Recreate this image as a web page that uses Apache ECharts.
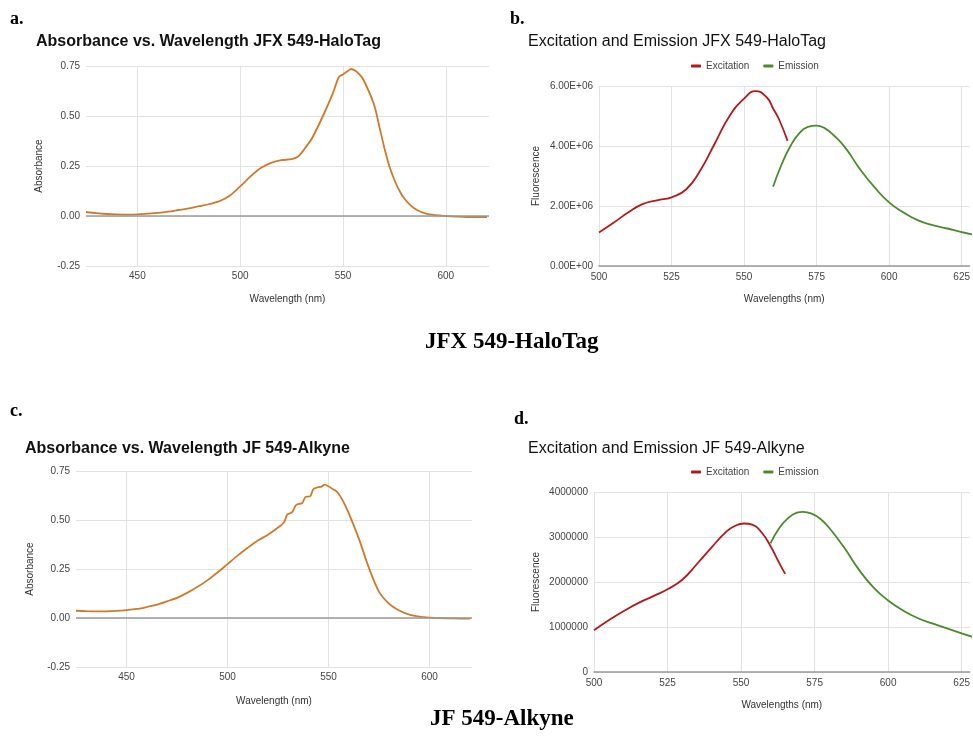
<!DOCTYPE html>
<html>
<head>
<meta charset="utf-8">
<script src="https://cdn.jsdelivr.net/npm/echarts@6/dist/echarts.min.js"></script>
<style>
  html, body { margin: 0; padding: 0; background: #fff; }
  #main { width: 973px; height: 736px; }
</style>
</head>
<body>
<div id="main"></div>
<script>
// absorbance, JFX 549-HaloTag (panel a)
const haloAbsWl = [425, 430, 435, 440, 445, 450, 455, 460, 465, 470, 475, 480, 485, 490, 495, 500, 505, 510, 515, 520, 525, 528, 530, 533, 535, 540, 545, 548, 550, 552, 554, 556, 558, 560, 565, 567.5, 570, 572.5, 575, 577.5, 580, 583, 586, 590, 595, 600, 605, 610, 615, 620]
const haloAbs = [0.020, 0.014, 0.010, 0.008, 0.007, 0.008, 0.012, 0.016, 0.022, 0.030, 0.038, 0.049, 0.060, 0.074, 0.102, 0.148, 0.198, 0.240, 0.266, 0.279, 0.284, 0.296, 0.318, 0.36, 0.390, 0.495, 0.612, 0.695, 0.708, 0.722, 0.735, 0.726, 0.708, 0.680, 0.560, 0.455, 0.345, 0.250, 0.180, 0.125, 0.085, 0.052, 0.030, 0.013, 0.004, 0.000, -0.003, -0.005, -0.005, -0.005]

// absorbance, JF 549-Alkyne (panel c)
const alkAbsWl = [425, 430, 435, 440, 445, 450, 455, 460, 465, 470, 475, 480, 485, 490, 495, 500, 505, 510, 515, 520, 525, 528, 529.5, 532, 534, 537, 538.5, 541, 542.5, 545, 546.5, 548, 550, 552, 554, 556, 558, 560, 565, 570, 575, 580, 585, 590, 595, 600, 605, 610, 615, 620]
const alkAbs = [0.037, 0.035, 0.034, 0.034, 0.036, 0.040, 0.046, 0.056, 0.068, 0.085, 0.103, 0.128, 0.158, 0.192, 0.232, 0.275, 0.318, 0.358, 0.395, 0.425, 0.462, 0.488, 0.527, 0.540, 0.577, 0.587, 0.617, 0.622, 0.658, 0.668, 0.670, 0.680, 0.672, 0.658, 0.646, 0.618, 0.580, 0.535, 0.405, 0.255, 0.133, 0.072, 0.038, 0.017, 0.007, 0.002, -0.001, -0.002, -0.003, -0.003]

// fluorescence, JFX 549-HaloTag (panel b)
const haloExWl = [500, 505, 510, 515, 520, 525, 530, 535, 540, 545, 550, 554, 558, 560, 562, 565]
const haloEx = [1.12e6, 1.44e6, 1.78e6, 2.06e6, 2.19e6, 2.29e6, 2.55e6, 3.2e6, 4.1e6, 5.0e6, 5.58e6, 5.83e6, 5.6e6, 5.25e6, 4.9e6, 4.17e6]
const haloEmWl = [560, 563, 566, 569, 572, 575, 578, 581, 585, 590, 595, 600, 605, 610, 615, 620, 625, 630]
const haloEm = [2.64e6, 3.4e6, 4.0e6, 4.42e6, 4.64e6, 4.68e6, 4.58e6, 4.35e6, 3.93e6, 3.22e6, 2.62e6, 2.12e6, 1.78e6, 1.52e6, 1.36e6, 1.25e6, 1.13e6, 1.03e6]

// fluorescence, JF 549-Alkyne (panel d)
const alkExWl = [500, 505, 510, 515, 520, 525, 530, 535, 540, 545, 548, 551, 554, 557, 560, 563, 565]
const alkEx = [0.93e6, 1.15e6, 1.35e6, 1.53e6, 1.68e6, 1.84e6, 2.05e6, 2.40e6, 2.77e6, 3.12e6, 3.25e6, 3.30e6, 3.27e6, 3.10e6, 2.80e6, 2.42e6, 2.18e6]
const alkEmWl = [560, 563, 566, 569, 571, 574, 577, 580, 585, 590, 595, 600, 605, 610, 615, 620, 625, 630]
const alkEm = [2.86e6, 3.2e6, 3.42e6, 3.54e6, 3.56e6, 3.52e6, 3.40e6, 3.20e6, 2.77e6, 2.28e6, 1.88e6, 1.59e6, 1.37e6, 1.20e6, 1.08e6, 0.97e6, 0.86e6, 0.75e6]

const pair = (xs, ys) => xs.map((x, i) => [x, ys[i]])

const FONT = 'Liberation Sans, Arial, sans-serif'
const SERIF = 'Liberation Serif, Times New Roman, serif'
const ORANGE = '#cf7a2a'
const RED = '#b3191c'
const GREEN = '#4a8b2c'
const GRID_LINE = '#e2e2e2'

function sci(v) {
  if (v === 0) return '0.00E+00'
  const e = Math.floor(Math.log10(v))
  const m = v / Math.pow(10, e)
  return m.toFixed(2) + 'E+' + String(e).padStart(2, '0')
}

const tickText = { color: '#444', fontSize: 10, fontFamily: FONT }
const nameText = { color: '#333', fontSize: 10, fontFamily: FONT }

// absorbance x axis (425..621, labels every 50)
function absX(gridIndex, gap) {
  return {
    type: 'value', gridIndex: gridIndex, min: 425, max: 621,
    splitNumber: 4, minInterval: 50, maxInterval: 50,
    name: 'Wavelength (nm)', nameLocation: 'middle', nameGap: gap, nameTextStyle: nameText,
    axisLine: { show: false, onZero: false }, axisTick: { show: false },
    axisLabel: Object.assign({ margin: 5, showMinLabel: false, showMaxLabel: false }, tickText),
    splitLine: { show: true, showMinLine: false, showMaxLine: false, lineStyle: { color: GRID_LINE, width: 1 } }
  }
}
function absY(gridIndex, gap) {
  return {
    type: 'value', gridIndex: gridIndex, min: -0.25, max: 0.75, interval: 0.25,
    name: 'Absorbance', nameLocation: 'middle', nameGap: gap, nameTextStyle: nameText,
    axisLine: { show: false }, axisTick: { show: false },
    axisLabel: Object.assign({ margin: 6, formatter: v => v.toFixed(2) }, tickText),
    splitLine: { lineStyle: { color: GRID_LINE, width: 1 } }
  }
}
function fluX(gridIndex, gap) {
  return {
    type: 'value', gridIndex: gridIndex, min: 500, max: 627.7, interval: 25,
    name: 'Wavelengths (nm)', nameLocation: 'middle', nameGap: gap, nameTextStyle: nameText,
    axisLine: { show: true, onZero: false, lineStyle: { color: '#999', width: 1.5 } }, axisTick: { show: false },
    axisLabel: Object.assign({ margin: 6, showMaxLabel: false }, tickText),
    splitLine: { show: true, showMaxLine: false, lineStyle: { color: GRID_LINE, width: 1 } }
  }
}
function fluY(gridIndex, gap, max, interval, fmt) {
  return {
    type: 'value', gridIndex: gridIndex, min: 0, max: max, interval: interval,
    name: 'Fluorescence', nameLocation: 'middle', nameGap: gap, nameTextStyle: nameText,
    axisLine: { show: false }, axisTick: { show: false },
    axisLabel: Object.assign({ margin: 6, formatter: fmt }, tickText),
    splitLine: { lineStyle: { color: GRID_LINE, width: 1 } }
  }
}

function absSeries(idx, data) {
  return {
    type: 'line', xAxisIndex: idx, yAxisIndex: idx, data: data,
    smooth: 0.3, showSymbol: false, symbol: 'none',
    lineStyle: { color: ORANGE, width: 1.8 },
    markLine: {
      silent: true, symbol: ['none', 'none'], label: { show: false },
      lineStyle: { color: '#9a9a9a', width: 1.5, type: 'solid' },
      data: [{ yAxis: 0 }]
    }
  }
}
function fluSeries(idx, name, color, data) {
  return {
    type: 'line', name: name, xAxisIndex: idx, yAxisIndex: idx, data: data,
    smooth: true, showSymbol: false, symbol: 'none',
    itemStyle: { color: color },
    lineStyle: { color: color, width: 1.8 }
  }
}

function legendAt(top) {
  return {
    data: ['Excitation', 'Emission'], left: 691, top: top, padding: 0,
    icon: 'roundRect', itemWidth: 10, itemHeight: 3, itemGap: 14,
    textStyle: { color: '#444', fontSize: 10, fontFamily: FONT }
  }
}

const chart = echarts.init(document.getElementById('main'), null, { renderer: 'canvas' })

const option = {
  backgroundColor: '#fff',
  animation: false,
  title: [
    { text: 'Absorbance vs. Wavelength JFX 549-HaloTag', left: 36, top: 34, padding: 0,
      textStyle: { fontSize: 16, fontWeight: 'bold', color: '#111', fontFamily: FONT } },
    { text: 'Excitation and Emission JFX 549-HaloTag', left: 528, top: 34, padding: 0,
      textStyle: { fontSize: 16, fontWeight: 'normal', color: '#111', fontFamily: FONT } },
    { text: 'Absorbance vs. Wavelength JF 549-Alkyne', left: 25, top: 441, padding: 0,
      textStyle: { fontSize: 16, fontWeight: 'bold', color: '#111', fontFamily: FONT } },
    { text: 'Excitation and Emission JF 549-Alkyne', left: 528, top: 441, padding: 0,
      textStyle: { fontSize: 16, fontWeight: 'normal', color: '#111', fontFamily: FONT } }
  ],
  legend: [legendAt(61), legendAt(467)],
  grid: [
    { left: 86, top: 66, width: 403, height: 200 },
    { left: 599, top: 86, width: 374, height: 180 },
    { left: 76, top: 471, width: 396, height: 196 },
    { left: 594, top: 492, width: 379, height: 180 }
  ],
  xAxis: [absX(0, 28), fluX(1, 28), absX(2, 29), fluX(3, 28)],
  yAxis: [
    absY(0, 42),
    fluY(1, 58, 6e6, 2e6, sci),
    absY(2, 41),
    fluY(3, 53, 4e6, 1e6, v => String(v))
  ],
  series: [
    absSeries(0, pair(haloAbsWl, haloAbs)),
    fluSeries(1, 'Excitation', RED, pair(haloExWl, haloEx)),
    fluSeries(1, 'Emission', GREEN, pair(haloEmWl, haloEm)),
    absSeries(2, pair(alkAbsWl, alkAbs)),
    fluSeries(3, 'Excitation', RED, pair(alkExWl, alkEx)),
    fluSeries(3, 'Emission', GREEN, pair(alkEmWl, alkEm))
  ],
  graphic: [
    { type: 'text', left: 10, top: 10, style: { text: 'a.', font: 'bold 18px ' + SERIF, fill: '#000' } },
    { type: 'text', left: 510, top: 10, style: { text: 'b.', font: 'bold 18px ' + SERIF, fill: '#000' } },
    { type: 'text', left: 10, top: 402, style: { text: 'c.', font: 'bold 18px ' + SERIF, fill: '#000' } },
    { type: 'text', left: 514, top: 410, style: { text: 'd.', font: 'bold 18px ' + SERIF, fill: '#000' } },
    { type: 'text', left: 425, top: 331, style: { text: 'JFX 549-HaloTag', font: 'bold 23px ' + SERIF, fill: '#000' } },
    { type: 'text', left: 430, top: 708, style: { text: 'JF 549-Alkyne', font: 'bold 23px ' + SERIF, fill: '#000' } }
  ]
}

chart.setOption(option)
</script>
</body>
</html>
